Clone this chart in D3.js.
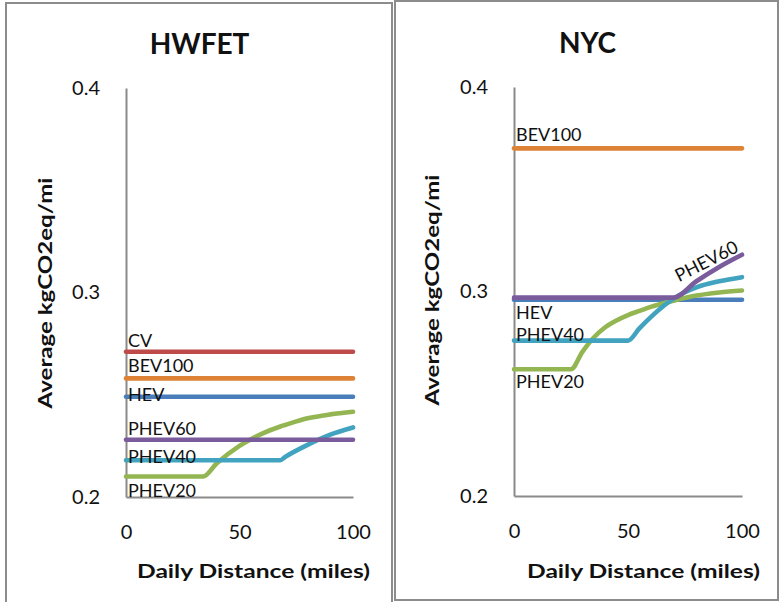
<!DOCTYPE html>

<head>
  <meta charset="utf-8">
  <script src="https://d3js.org/d3.v7.min.js"></script>
  <style>
    body {
      margin: 0;
      background-color: #fff;
    }

    text {
      font-family: Lato, "Open Sans", sans-serif;
      fill: #111;
    }

    .domain {
      stroke: #8a8a8a;
      stroke-width: 2;
    }
  </style>
</head>

<body>
  <div id="graph"></div>
  <script>
    // Data
    var xTicks = [0, 50, 100];
    var yTicks = [0.2, 0.3, 0.4];

    // HWFET panel
    var hwfetDistance = [0, 34, 40, 50, 60, 68, 70, 80, 90, 100];
    var hwfetCV = [0.271, 0.271, 0.271, 0.271, 0.271, 0.271, 0.271, 0.271, 0.271, 0.271];
    var hwfetBEV100 = [0.258, 0.258, 0.258, 0.258, 0.258, 0.258, 0.258, 0.258, 0.258, 0.258];
    var hwfetHEV = [0.249, 0.249, 0.249, 0.249, 0.249, 0.249, 0.249, 0.249, 0.249, 0.249];
    var hwfetPHEV20 = [0.210, 0.210, 0.2165, 0.225, 0.231, 0.2345, 0.2352, 0.2385, 0.2404, 0.2417];
    var hwfetPHEV40 = [0.218, 0.218, 0.218, 0.218, 0.218, 0.218, 0.2195, 0.2255, 0.2305, 0.234];
    var hwfetPHEV60 = [0.228, 0.228, 0.228, 0.228, 0.228, 0.228, 0.228, 0.228, 0.228, 0.228];

    // NYC panel
    var nycDistance = [0, 25, 30, 35, 40, 50, 55, 60, 70, 80, 90, 100];
    var nycBEV100 = [0.37, 0.37, 0.37, 0.37, 0.37, 0.37, 0.37, 0.37, 0.37, 0.37, 0.37, 0.37];
    var nycHEV = [0.296, 0.296, 0.296, 0.296, 0.296, 0.296, 0.296, 0.296, 0.296, 0.296, 0.296, 0.296];
    var nycPHEV20 = [0.262, 0.262, 0.2705, 0.2775, 0.2825, 0.2885, 0.2905, 0.2925, 0.2955, 0.298, 0.2995, 0.3005];
    var nycPHEV40 = [0.276, 0.276, 0.276, 0.276, 0.276, 0.276, 0.282, 0.2875, 0.2965, 0.302, 0.305, 0.307];
    var nycPHEV60 = [0.297, 0.297, 0.297, 0.297, 0.297, 0.297, 0.297, 0.297, 0.297, 0.305, 0.312, 0.318];

    var colors = {
      CV: "#be4b48",
      BEV100: "#de8236",
      HEV: "#4a7ebb",
      PHEV20: "#93b653",
      PHEV40: "#41a3bf",
      PHEV60: "#7a5b9c"
    };

    var width = 780;
    var height = 602;
    var svg = d3.select("#graph").append("svg")
      .attr("width", width)
      .attr("height", height);

    var panels = [{
      title: "HWFET",
      distance: hwfetDistance,
      series: [
        { name: "CV", values: hwfetCV },
        { name: "BEV100", values: hwfetBEV100 },
        { name: "HEV", values: hwfetHEV },
        { name: "PHEV20", values: hwfetPHEV20 },
        { name: "PHEV40", values: hwfetPHEV40 },
        { name: "PHEV60", values: hwfetPHEV60 }
      ],
      // label offsets from the line, in px
      labels: { CV: -5, BEV100: -6, HEV: 4, PHEV60: -4.5, PHEV40: 3, PHEV20: 20 },
      box: [6, 3, 392, 606],
      left: 126, right: 353, top: 88, bottom: 497,
      titleX: 199.5, titleY: 54,
      xTitleX: 253.5, yTitleX: 52, yTitleY: 293
    }, {
      title: "NYC",
      distance: nycDistance,
      series: [
        { name: "BEV100", values: nycBEV100 },
        { name: "HEV", values: nycHEV },
        { name: "PHEV20", values: nycPHEV20 },
        { name: "PHEV40", values: nycPHEV40 },
        { name: "PHEV60", values: nycPHEV60 }
      ],
      labels: { BEV100: -7, HEV: 19, PHEV40: 0, PHEV20: 19 },
      rotated: { name: "PHEV60", at: 72.4, dy: -11.5, angle: -27 },
      box: [395, 1, 778, 600],
      left: 514, right: 742, top: 87, bottom: 496,
      titleX: 587.5, titleY: 53,
      xTitleX: 643.5, yTitleX: 439, yTitleY: 290
    }];

    panels.forEach(drawPanel);

    function drawPanel(p) {
      var g = svg.append("g");

      // panel frame
      g.append("rect")
        .attr("x", p.box[0])
        .attr("y", p.box[1])
        .attr("width", p.box[2] - p.box[0])
        .attr("height", p.box[3] - p.box[1])
        .attr("fill", "none")
        .attr("stroke", "#8c8c8c")
        .attr("stroke-width", 2);

      var x = d3.scaleLinear().domain([0, 100]).range([p.left, p.right]);
      var y = d3.scaleLinear().domain([0.2, 0.4]).range([p.bottom, p.top]);

      var yAxis = d3.axisLeft(y)
        .tickValues(yTicks)
        .tickFormat(d3.format(".1f"))
        .tickSize(0)
        .tickPadding(26);

      var xAxis = d3.axisBottom(x)
        .tickValues(xTicks)
        .tickSize(0)
        .tickPadding(28);

      g.append("g")
        .attr("transform", "translate(" + p.left + ",0)")
        .call(yAxis)
        .attr("font-family", null)
        .attr("font-size", 20);

      g.append("g")
        .attr("transform", "translate(0," + p.bottom + ")")
        .call(xAxis)
        .attr("font-family", null)
        .attr("font-size", 20);

      var line = d3.line()
        .x((d, i) => x(p.distance[i]))
        .y(d => y(d))
        .curve(d3.curveMonotoneX);

      g.selectAll(".line").data(p.series).enter()
        .append("path")
        .attr("class", "line")
        .attr("d", d => line(d.values))
        .attr("fill", "none")
        .attr("stroke", d => colors[d.name])
        .attr("stroke-width", 4.6)
        .attr("stroke-linecap", "round")
        .attr("stroke-linejoin", "round");

      // series names next to the lines
      p.series.filter(d => p.labels[d.name] !== undefined).forEach(function(d) {
        g.append("text")
          .attr("x", x(0) + 2)
          .attr("y", y(d.values[0]) + p.labels[d.name])
          .attr("font-size", 18)
          .text(d.name);
      });

      if (p.rotated) {
        var r = p.rotated;
        var s = p.series.find(d => d.name == r.name);
        var yv = d3.scaleLinear().domain(p.distance).range(s.values)(r.at);
        g.append("text")
          .attr("transform", "translate(" + x(r.at) + "," + (y(yv) + r.dy) + ") rotate(" + r.angle + ")")
          .attr("font-size", 18)
          .text(r.name);
      }

      // titles
      g.append("text")
        .attr("x", p.titleX)
        .attr("y", p.titleY)
        .attr("text-anchor", "middle")
        .attr("font-size", 28)
        .attr("font-weight", "bold")
        .text(p.title);

      g.append("text")
        .attr("x", p.xTitleX)
        .attr("y", 578)
        .attr("text-anchor", "middle")
        .attr("font-size", 19)
        .attr("font-weight", "bold")
        .attr("textLength", 233)
        .attr("lengthAdjust", "spacingAndGlyphs")
        .text("Daily Distance  (miles)");

      g.append("text")
        .attr("transform", "translate(" + p.yTitleX + "," + p.yTitleY + ") rotate(-90)")
        .attr("text-anchor", "middle")
        .attr("font-size", 19)
        .attr("font-weight", "bold")
        .attr("textLength", 231)
        .attr("lengthAdjust", "spacingAndGlyphs")
        .text("Average kgCO2eq/mi");
    }
  </script>
</body>
